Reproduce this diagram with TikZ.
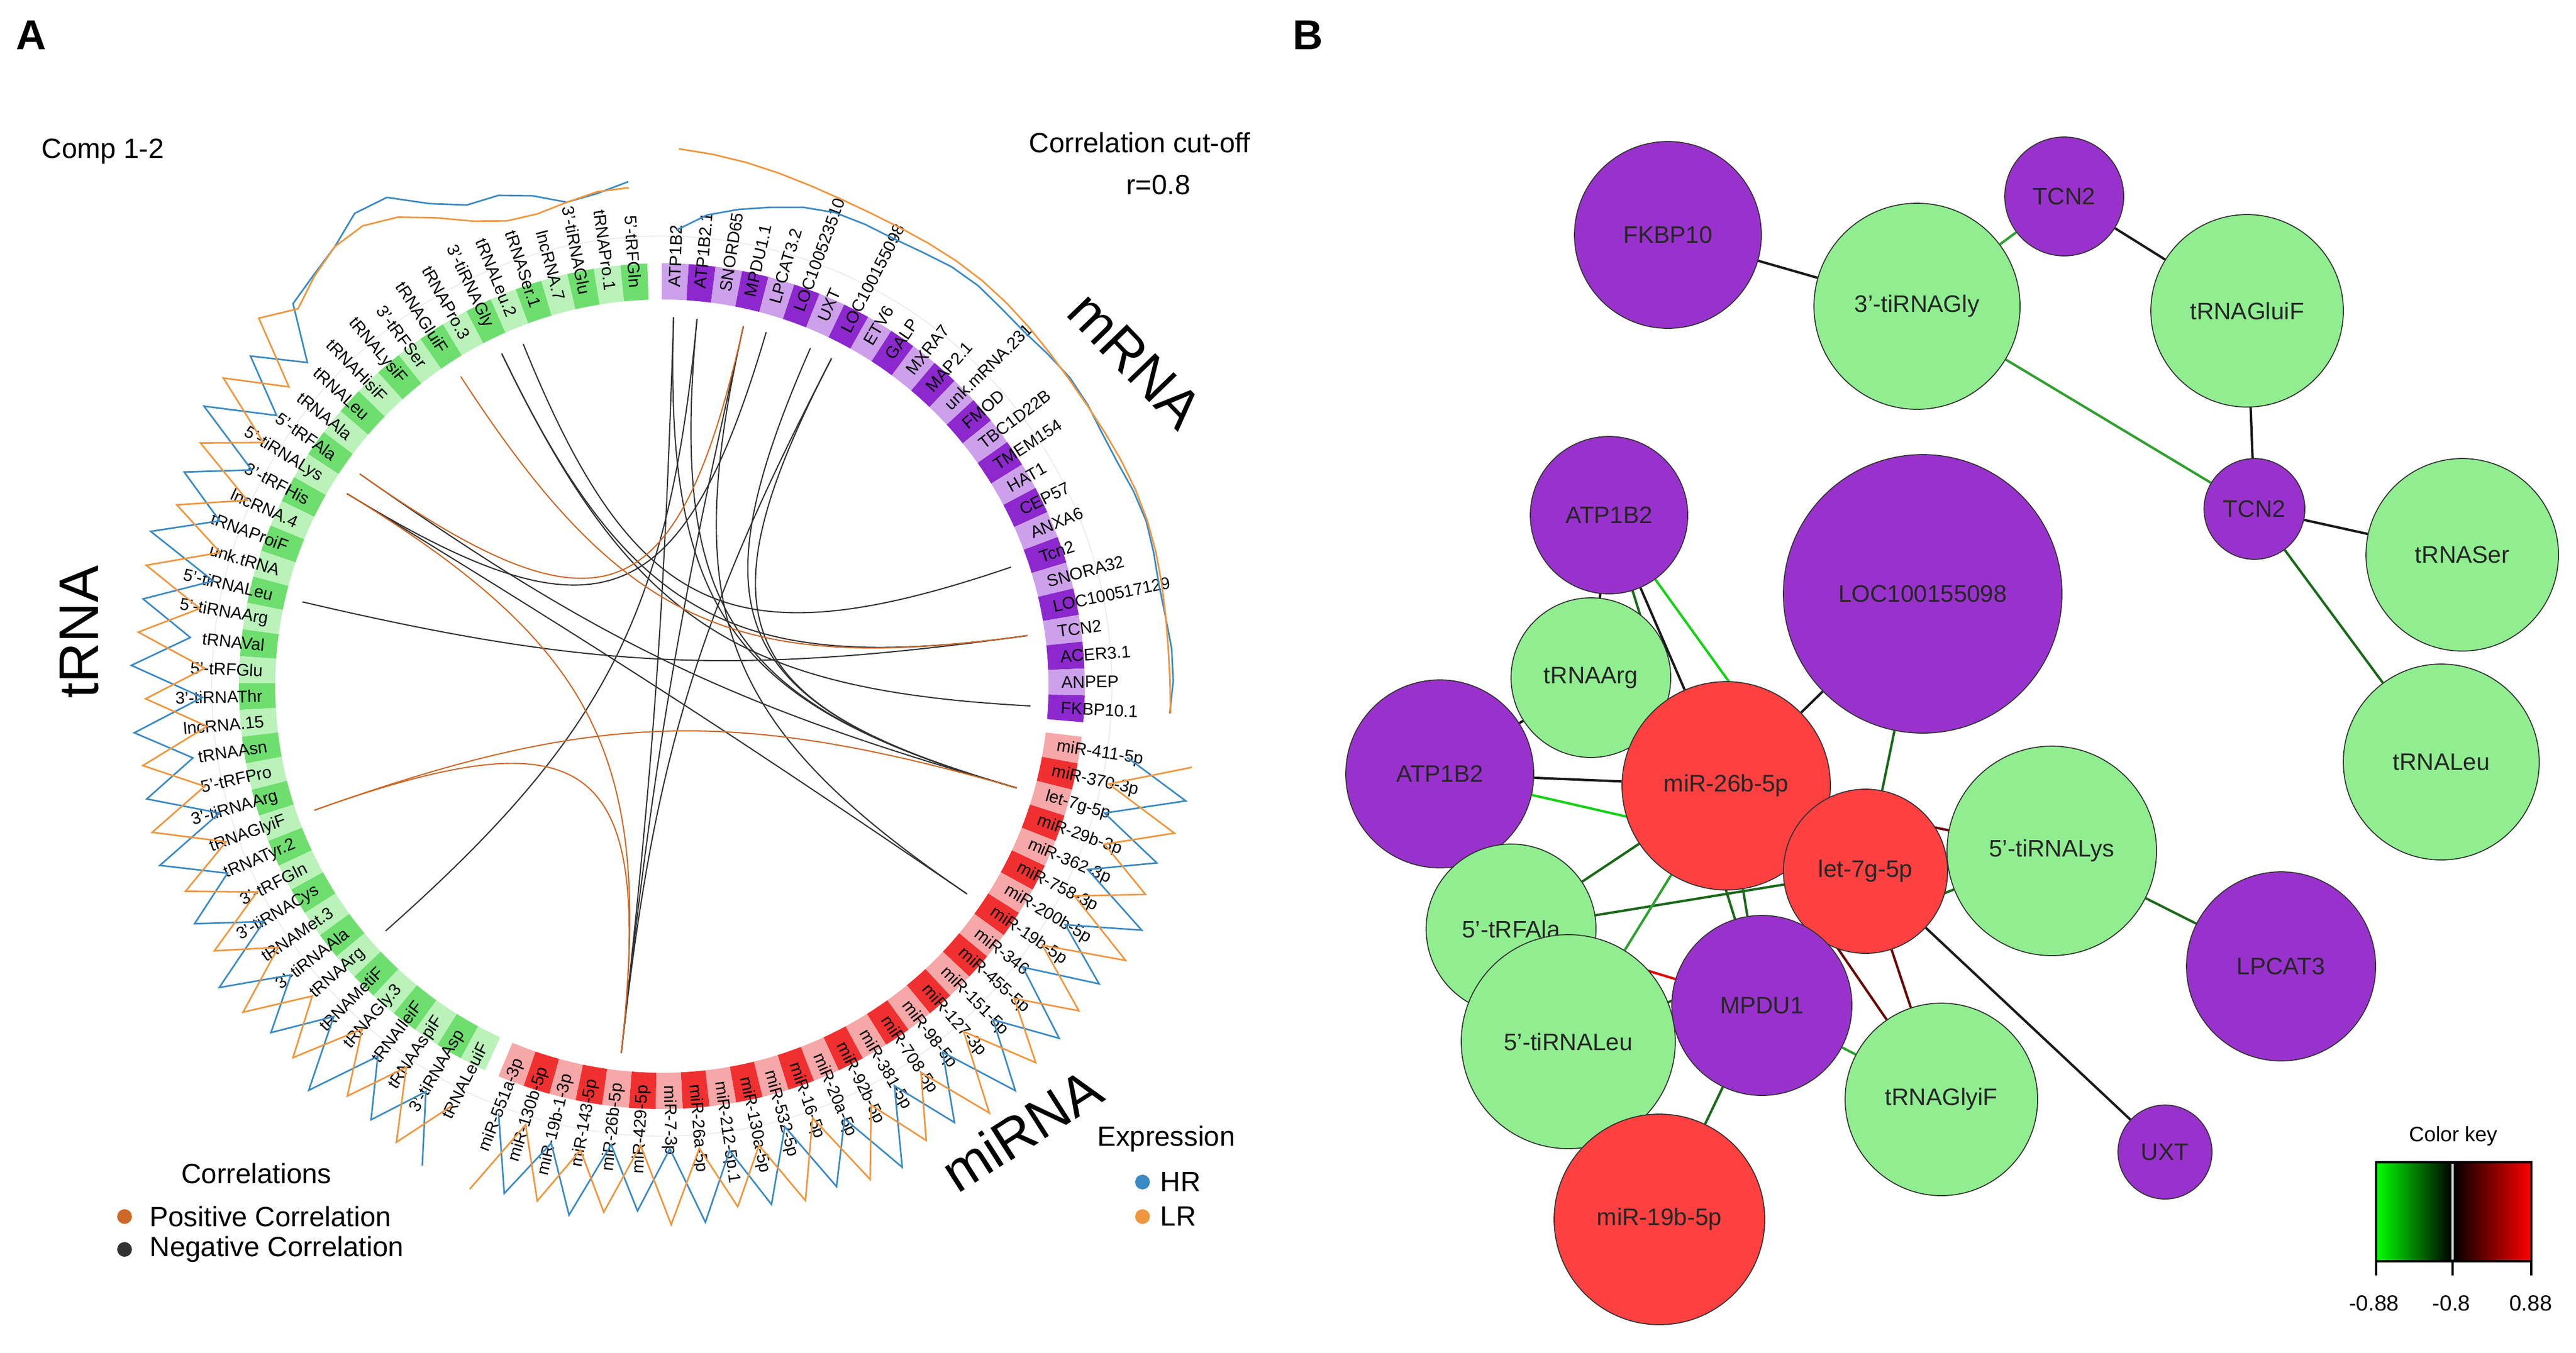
\documentclass[tikz,border=0pt]{standalone}
\usepackage{fontspec}
\setmainfont{Liberation Sans}
\definecolor{trnadark}{RGB}{110,222,110}
\definecolor{trnalight}{RGB}{186,242,186}
\definecolor{mrnadark}{RGB}{140,40,205}
\definecolor{mrnalight}{RGB}{205,160,235}
\definecolor{mirnadark}{RGB}{240,48,48}
\definecolor{mirnalight}{RGB}{246,168,168}
\definecolor{hrblue}{RGB}{58,138,196}
\definecolor{lrorange}{RGB}{240,150,62}
\definecolor{poscor}{RGB}{205,105,40}
\definecolor{negcor}{RGB}{50,50,50}
\definecolor{purplenode}{RGB}{153,50,204}
\definecolor{greennode}{RGB}{144,238,144}
\definecolor{rednode}{RGB}{255,64,64}
\definecolor{edgedkgreen}{RGB}{25,105,25}
\definecolor{edgemdgreen}{RGB}{45,160,45}
\definecolor{edgegreen}{RGB}{20,210,20}
\definecolor{edgedkred}{RGB}{105,0,0}
\definecolor{edgered}{RGB}{225,0,0}
\pgfdeclarelayer{back}
\pgfdeclarelayer{edges}
\pgfsetlayers{back,edges,main}
\pgfmathdeclarefunction{angm}{1}{\pgfmathparse{90-3.65*(#1-0.5)}}
\pgfmathdeclarefunction{angmi}{1}{\pgfmathparse{-6.88-3.65*(#1-0.5)}}
\pgfmathdeclarefunction{angt}{1}{\pgfmathparse{91.98+3.65*(#1-0.5)}}
\newcommand{\chord}[3]{\draw[#1] ({#2}:6.52) .. controls ({#2}:1.3) and ({#3}:1.3) .. ({#3}:6.52);}
\newcommand{\band}[3]{\fill[#1] (#2:6.83) arc[start angle=#2,end angle=#3,radius=6.83] -- (#3:7.47) arc[start angle=#3,end angle=#2,radius=7.47] -- cycle;}
\begin{document}
\begin{tikzpicture}
\tikzstyle{every node}+=[inner sep=0pt]
\tikzstyle{lbl}=[font=\fontsize{8.5}{10}\selectfont]
\tikzstyle{big}=[font=\fontsize{28}{32}\selectfont]
\tikzstyle{legend}=[font=\fontsize{14}{16}\selectfont]
\tikzstyle{negc}=[negcor, line width=0.6pt]
\tikzstyle{posc}=[poscor, line width=0.6pt]
\tikzstyle{hrline}=[hrblue, line width=0.8pt]
\tikzstyle{lrline}=[lrorange, line width=0.8pt]
\tikzstyle{netnode}=[circle, draw=black!80, line width=0.5pt, font=\fontsize{12}{14}\selectfont, text=black!85]
\tikzstyle{pnode}=[netnode, fill=purplenode]
\tikzstyle{gnode}=[netnode, fill=greennode]
\tikzstyle{rnode}=[netnode, fill=rednode]
\tikzstyle{blk}=[black!90, line width=1.2pt]
\tikzstyle{dkgrn}=[edgedkgreen, line width=1.2pt]
\tikzstyle{mdgrn}=[edgemdgreen, line width=1.2pt]
\tikzstyle{grn}=[edgegreen, line width=1.2pt]
\tikzstyle{dkred}=[edgedkred, line width=1.2pt]
\tikzstyle{redge}=[edgered, line width=1.2pt]
\begin{pgfonlayer}{back}
\fill[white] (0,0) rectangle (45.5,-23.89);
\end{pgfonlayer}
\useasboundingbox (0,0) rectangle (45.5,-23.89);

\node[font=\fontsize{21}{24}\selectfont\bfseries] (panelA) at (0.55,-0.62) {A};
\node[font=\fontsize{21}{24}\selectfont\bfseries] (panelB) at (23.10,-0.62) {B};
\node[legend, anchor=west] (comp) at (0.73,-2.67) {Comp 1-2};
\node[legend] (cutoff) at (20.13,-2.52) {Correlation cut-off};
\node[legend] (rval) at (20.46,-3.27) {r=0.8};

\begin{scope}[shift={(11.69,-12.12)}]
\draw[gray!18, line width=0.4pt] (0,0) circle (7.95);
\foreach \lab [count=\k] in {5'-tRFGln, tRNAPro.1, 3'-tiRNAGlu, lncRNA.7, tRNASer.1, tRNALeu.2, 3'-tiRNAGly, tRNAPro.3, tRNAGluiF, 3'-tRFSer, tRNALysiF, tRNAHisiF, tRNALeu, tRNAAla, 5'-tRFAla, 5'-tiRNALys, 3'-tRFHis, lncRNA.4, tRNAProiF, unk.tRNA, 5'-tiRNALeu, 5'-tiRNAArg, tRNAVal, 5'-tRFGlu, 3'-tiRNAThr, lncRNA.15, tRNAAsn, 5'-tRFPro, 3'-tiRNAArg, tRNAGlyiF, tRNATyr.2, 3'-tRFGln, 3'-tiRNACys, tRNAMet.3, 3'-tiRNAAla, tRNAArg, tRNAMetiF, tRNAGly.3, tRNAIleiF, tRNAAspiF, 3'-tiRNAAsp, tRNALeuiF}{
  \pgfmathsetmacro\angC{angt(\k)}
  \pgfmathsetmacro\angA{\angC-1.825}
  \pgfmathsetmacro\angB{\angC+1.825}
  \pgfmathsetmacro\rot{\angC-180}
  \ifodd\k \def\col{trnadark}\else\def\col{trnalight}\fi
  \band{\col}{\angA}{\angB}
  \node[lbl, anchor=east, rotate=\rot] at (\angC:7.05) {\lab};
}
\foreach \lab [count=\k] in {ATP1B2, ATP1B2.1, SNORD65, MPDU1.1, LPCAT3.2, LOC100523510, UXT, LOC100155098, ETV6, GALP, MXRA7, MAP2.1, unk.mRNA.231, FMOD, TBC1D22B, TMEM154, HAT1, CEP57, ANXA6, Tcn2, SNORA32, LOC100517129, TCN2, ACER3.1, ANPEP, FKBP10.1}{
  \pgfmathsetmacro\angC{angm(\k)}
  \pgfmathsetmacro\angA{\angC-1.825}
  \pgfmathsetmacro\angB{\angC+1.825}
  \ifodd\k \def\col{mrnalight}\else\def\col{mrnadark}\fi
  \band{\col}{\angA}{\angB}
  \node[lbl, anchor=west, rotate=\angC] at (\angC:7.05) {\lab};
}
\foreach \lab [count=\k] in {miR-411-5p, miR-370-3p, let-7g-5p, miR-29b-3p, miR-362-3p, miR-758-3p, miR-200b-5p, miR-19b-5p, miR-346, miR-455-5p, miR-151-5p, miR-127-3p, miR-98-5p, miR-708-5p, miR-381-5p, miR-92b-5p, miR-20a-5p, miR-16-5p, miR-532-5p, miR-130a-5p, miR-212-5p.1, miR-26a-5p, miR-7-3p, miR-429-5p, miR-26b-5p, miR-143-5p, miR-19b-1-3p, miR-130b-5p, miR-551a-3p}{
  \pgfmathsetmacro\angC{angmi(\k)}
  \pgfmathsetmacro\angA{\angC-1.825}
  \pgfmathsetmacro\angB{\angC+1.825}
  \pgfmathtruncatemacro\flip{\angC<-90}
  \pgfmathsetmacro\rot{\angC+180*\flip}
  \ifnum\flip=1 \def\anc{east}\else\def\anc{west}\fi
  \ifodd\k \def\col{mirnalight}\else\def\col{mirnadark}\fi
  \band{\col}{\angA}{\angB}
  \node[lbl, anchor=\anc, rotate=\rot] at (\angC:7.05) {\lab};
}

\chord{negc}{angm(1)}{angmi(25)}
\chord{negc}{angm(1)}{angmi(3)}
\chord{negc}{angm(2)}{angmi(3)}
\chord{negc}{angm(2)}{angt(36)}
\chord{negc}{angm(4)}{angmi(25)}
\chord{negc}{angm(4)}{angmi(8)}
\chord{negc}{angm(5)}{angt(16)}
\chord{negc}{angm(7)}{angmi(3)}
\chord{negc}{angm(8)}{angmi(25)}
\chord{negc}{angm(8)}{angmi(3)}
\chord{negc}{angm(20)}{angt(6)}
\chord{negc}{angm(23)}{angt(7)}
\chord{negc}{angm(26)}{angt(7)}
\chord{negc}{angm(23)}{angt(21)}
\chord{negc}{angt(15)}{angmi(3)}
\chord{negc}{angt(16)}{angmi(8)}
\chord{posc}{angt(9)}{angm(23)}
\chord{posc}{angt(30)}{angmi(3)}
\chord{posc}{angmi(25)}{angt(30)}
\chord{posc}{angmi(25)}{angt(16)}
\chord{posc}{angm(4)}{angt(15)}

\draw[hrline] plot[domain=1:42, samples=42, variable=\k] ({angt(\k)}:{8.8+(\k>12)*0.55*cos(180*\k)+1.1*exp(-((\k-9)/3.2)^2)+0.13*sin(97*\k)});
\draw[lrline] plot[domain=1:42, samples=42, variable=\k] ({angt(\k)}:{8.7-(\k>12)*0.55*cos(180*\k)+1.0*exp(-((\k-10)/3.2)^2)+0.13*sin(53*\k+20)});
\draw[hrline] plot[domain=1:26, samples=26, variable=\k] ({angm(\k)}:{9.0-0.98*exp(-(\k-1)/2.5)+0.04*sin(77*\k)});
\draw[lrline] plot[domain=1:26, samples=26, variable=\k] ({angm(\k)}:{9.0+0.47*exp(-(\k-1)/6)+0.04*sin(41*\k)});
\draw[hrline] plot[domain=1:29, samples=29, variable=\k] ({angmi(\k)}:{8.8+0.6*cos(180*\k)+0.12*sin(71*\k)});
\draw[lrline] plot[domain=1:29, samples=29, variable=\k] ({angmi(\k)}:{8.8-0.6*cos(180*\k)+0.12*sin(113*\k+30)});
\end{scope}

\node[big, rotate=90] (trna) at (1.40,-11.16) {tRNA};
\node[big, rotate=-46] (mrna) at (20.05,-6.36) {mRNA};
\node[big, rotate=32.5] (mirna) at (18.04,-19.96) {miRNA};

\node[legend] (corr) at (4.53,-20.73) {Correlations};
\fill[poscor] (2.20,-21.49) circle (0.13);
\node[legend, anchor=west] (pos) at (2.64,-21.49) {Positive Correlation};
\fill[negcor] (2.20,-22.07) circle (0.13);
\node[legend, anchor=west] (neg) at (2.64,-22.07) {Negative Correlation};
\node[legend] (expr) at (20.60,-20.12) {Expression};
\fill[hrblue] (20.18,-20.88) circle (0.13);
\node[legend, anchor=west] (hr) at (20.49,-20.88) {HR};
\fill[lrorange] (20.18,-21.49) circle (0.13);
\node[legend, anchor=west] (lr) at (20.49,-21.49) {LR};

\node[pnode, minimum size=3.30cm] (fkbp) at (29.46,-4.15) {FKBP10};
\node[pnode, minimum size=2.10cm] (tcnA) at (36.46,-3.47) {TCN2};
\node[gnode, minimum size=3.64cm] (glyT) at (33.86,-5.41) {3'-tiRNAGly};
\node[gnode, minimum size=3.40cm] (gluif) at (39.69,-5.49) {tRNAGluiF};
\node[pnode, minimum size=1.78cm] (tcnB) at (39.82,-8.99) {TCN2};
\node[gnode, minimum size=3.40cm] (ser) at (43.49,-9.80) {tRNASer};
\node[gnode, minimum size=3.46cm] (leu) at (43.12,-13.46) {tRNALeu};
\node[pnode, minimum size=2.78cm] (atpA) at (28.42,-9.10) {ATP1B2};
\node[pnode, minimum size=4.92cm] (loc) at (33.96,-10.49) {LOC100155098};
\node[gnode, minimum size=2.82cm] (arg) at (28.10,-11.97) {tRNAArg};
\node[pnode, minimum size=3.32cm] (atpB) at (25.43,-13.67) {ATP1B2};
\node[rnode, minimum size=3.68cm] (mir26b) at (30.49,-13.88) {miR-26b-5p};
\node[rnode, minimum size=2.90cm] (let7g) at (32.95,-15.39) {let-7g-5p};
\node[gnode, minimum size=3.70cm] (lys) at (36.24,-15.03) {5'-tiRNALys};
\node[gnode, minimum size=3.00cm] (ala) at (26.69,-16.41) {5'-tRFAla};
\node[gnode, minimum size=3.78cm] (leuti) at (27.70,-18.40) {5'-tiRNALeu};
\node[pnode, minimum size=3.18cm] (mpdu) at (31.12,-17.76) {MPDU1};
\node[gnode, minimum size=3.40cm] (glyif) at (34.29,-19.42) {tRNAGlyiF};
\node[pnode, minimum size=3.34cm] (lpcat) at (40.29,-17.07) {LPCAT3};
\node[pnode, minimum size=1.66cm] (uxt) at (38.24,-20.35) {UXT};
\node[rnode, minimum size=3.72cm] (mir19b) at (29.31,-21.54) {miR-19b-5p};

\begin{pgfonlayer}{edges}
\draw[blk] (fkbp) -- (glyT);
\draw[mdgrn] (glyT) -- (tcnA);
\draw[blk] (tcnA) -- (gluif);
\draw[mdgrn] (glyT) -- (tcnB);
\draw[blk] (gluif) -- (tcnB);
\draw[blk] (tcnB) -- (ser);
\draw[dkgrn] (tcnB) -- (leu);
\draw[blk] (atpA) -- (arg);
\draw[blk] (atpA) -- (mir26b);
\draw[grn] (atpA) -- (let7g);
\draw[dkgrn] (atpA) -- (mpdu);
\draw[blk] (arg) -- (atpB);
\draw[blk] (loc) -- (mir26b);
\draw[dkgrn] (loc) -- (let7g);
\draw[blk] (atpB) -- (mir26b);
\draw[grn] (atpB) -- (let7g);
\draw[dkgrn] (ala) -- (mir26b);
\draw[dkgrn] (ala) -- (let7g);
\draw[redge] (ala) -- (mpdu);
\draw[mdgrn] (leuti) -- (mir26b);
\draw[dkgrn] (mir26b) -- (mpdu);
\draw[dkred] (mir26b) -- (glyif);
\draw[dkred] (mir26b) -- (lys);
\draw[dkred] (let7g) -- (glyif);
\draw[blk] (let7g) -- (uxt);
\draw[dkgrn] (lys) -- (leuti);
\draw[dkgrn] (lys) -- (lpcat);
\draw[mdgrn] (mpdu) -- (glyif);
\draw[dkgrn] (mpdu) -- (mir19b);
\end{pgfonlayer}

\node[font=\fontsize{10.5}{12}\selectfont] (keytitle) at (43.33,-20.07) {Color key};
\shade[left color=green, right color=black] (41.97,-22.28) rectangle (43.32,-20.53);
\shade[left color=black, right color=red] (43.32,-22.28) rectangle (44.71,-20.53);
\draw[black, line width=0.9pt] (41.97,-22.28) rectangle (44.71,-20.53);
\draw[gray!25, line width=1.2pt] (43.32,-20.56) -- (43.32,-22.25);
\draw[black, line width=0.9pt] (41.97,-22.28) -- (41.97,-22.53);
\draw[black, line width=0.9pt] (43.32,-22.28) -- (43.32,-22.53);
\draw[black, line width=0.9pt] (44.71,-22.28) -- (44.71,-22.53);
\node[font=\fontsize{11}{13}\selectfont] (kmin) at (41.93,-23.02) {-0.88};
\node[font=\fontsize{11}{13}\selectfont] (kmid) at (43.30,-23.02) {-0.8};
\node[font=\fontsize{11}{13}\selectfont] (kmax) at (44.70,-23.02) {0.88};
\end{tikzpicture}
\end{document}
